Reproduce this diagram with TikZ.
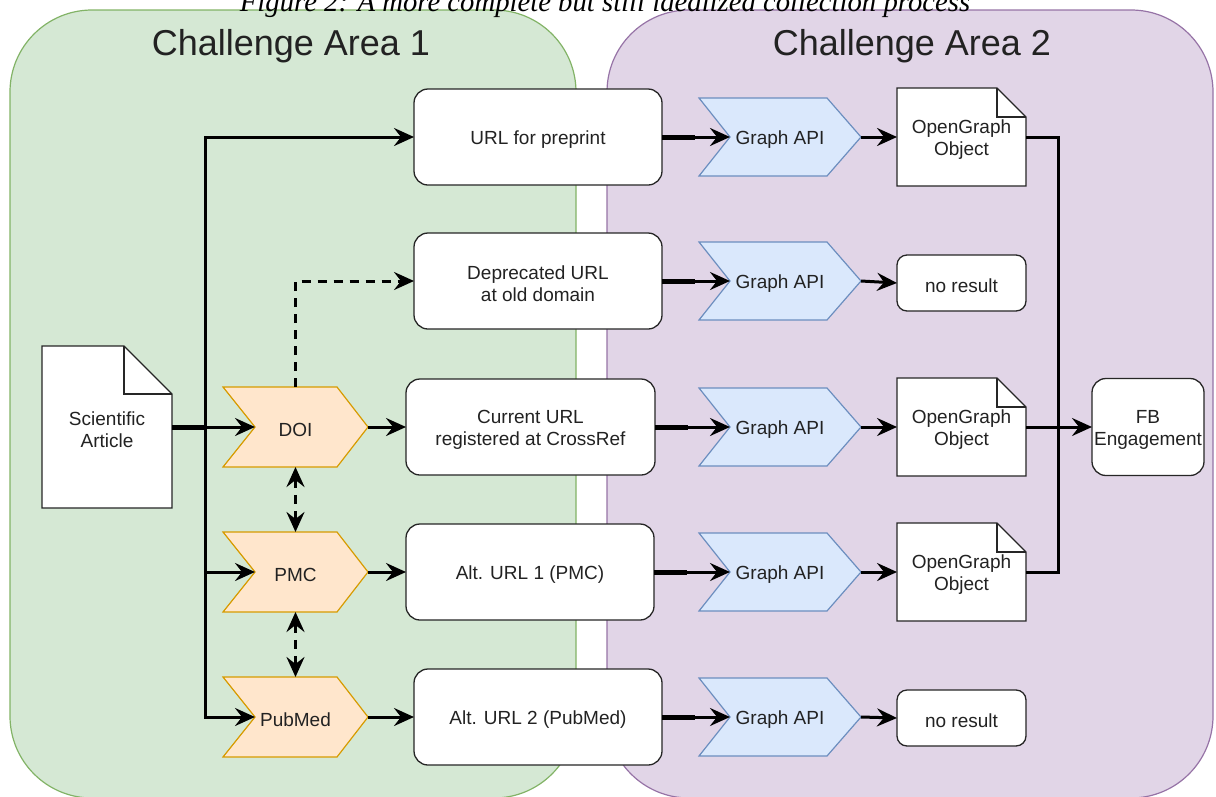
\documentclass[tikz,border=0pt]{standalone}
\usepackage{fontspec}
\setmainfont{Liberation Sans}
\newfontfamily\capfont{Liberation Serif}
\usetikzlibrary{arrows.meta,calc}
\definecolor{greenF}{HTML}{D5E8D4}
\definecolor{greenS}{HTML}{82B366}
\definecolor{purpF}{HTML}{E1D5E7}
\definecolor{purpS}{HTML}{9673A6}
\definecolor{orF}{HTML}{FFE6CC}
\definecolor{orS}{HTML}{D79B00}
\definecolor{blF}{HTML}{DAE8FC}
\definecolor{blS}{HTML}{6C8EBF}
\definecolor{txt}{HTML}{222222}
\newcommand\fs{\fontsize{19}{22}\selectfont}
% chevron: name, x1, y1, x2, y2, notch, tip, style, text
\newcommand\mkchev[9]{%
  \path[#8] (#2,#3) -- ({#4-#7},#3) -- (#4,{(#3+#5)/2}) -- ({#4-#7},#5) -- (#2,#5) -- ({#2+#6},{(#3+#5)/2}) -- cycle;
  \node[plain, minimum width={(#4-#2)*1pt}, minimum height={(#5-#3)*1pt}] (#1) at ({(#2+#4)/2},{(#3+#5)/2}) {};
  \node[plain, lbl] (#1-t) at (#1) {#9};
  \coordinate (#1-in) at ({#2+#6},{(#3+#5)/2});
}
% document: name, x1, y1, x2, y2, fold, text
\newcommand\mkdoc[7]{%
  \path[docshape] (#2,#3) -- ({#4-#6},#3) -- (#4,{#3+#6}) -- (#4,#5) -- (#2,#5) -- cycle;
  \draw[docline] ({#4-#6},#3) -- ({#4-#6},{#3+#6}) -- (#4,{#3+#6});
  \node[plain, minimum width={(#4-#2)*1pt}, minimum height={(#5-#3)*1pt}] (#1) at ({(#2+#4)/2},{(#3+#5)/2}) {};
  \node[plain, lbl] (#1-t) at (#1) {#7};
}
% rounded box: name, center, width, height, extra options, text
\newcommand\mkbox[6]{%
  \node[box, minimum width=#3, minimum height=#4, #5] (#1) at (#2) {};
  \node[plain, lbl] (#1-t) at (#1) {#6};
}
\begin{document}
\begin{tikzpicture}[x=1pt,y=-1pt,
  plain/.style={inner sep=0pt, outer sep=0pt, align=center, font=\fs, text=txt},
  lbl/.style={yshift=-2.5pt},
  box/.style={plain, draw=black!85, line width=1.3pt, fill=white, rounded corners=14pt},
  docshape/.style={draw=black!85, line width=1.3pt, fill=white, line join=miter},
  docline/.style={draw=black!85, line width=1.3pt},
  orange/.style={draw=orS, line width=1.2pt, fill=orF},
  blue/.style={draw=blS, line width=1.2pt, fill=blF},
  line/.style={draw=black, line width=3pt},
  thick seg/.style={draw=black, line width=5pt},
  tip/.style={-{Stealth[length=20pt,width=18pt,inset=7pt]}},
  arr/.style={line, tip},
  darr/.style={line, dash pattern=on 9pt off 7pt, tip},
  ddarr/.style={line, dash pattern=on 9pt off 7pt, {Stealth[length=20pt,width=18pt,inset=7pt]}-{Stealth[length=20pt,width=18pt,inset=7pt]}},
  title/.style={font=\fontsize{36}{40}\selectfont, text=txt, inner sep=0pt}
]
\useasboundingbox (0,0) rectangle (1216,796);
% areas
\path[fill=greenF, draw=greenS, line width=1.2pt, rounded corners=82pt] (10,10) rectangle (576,798);
\path[fill=purpF, draw=purpS, line width=1.2pt, rounded corners=82pt] (607,10) rectangle (1213,798);
\node[font=\capfont\itshape\fontsize{28.7}{30}\selectfont, anchor=base, inner sep=0pt] (cap) at (605,11) {Figure 2: A more complete but still idealized collection process};
\node[title] (ca1) at (291,46) {Challenge Area 1};
\node[title] (ca2) at (912,46) {Challenge Area 2};

% source document
\mkdoc{sci}{42}{346}{172}{508}{48}{Scientific\\Article}

% identifier chevrons
\mkchev{doi}{223}{387}{368}{467}{32}{31}{orange}{DOI}
\mkchev{pmc}{223}{532}{368}{612}{32}{31}{orange}{PMC}
\mkchev{pub}{223}{677}{368}{757}{32}{31}{orange}{PubMed}

% URL boxes
\mkbox{u1}{538,137}{248pt}{96pt}{}{URL for preprint}
\mkbox{u2}{538,281}{248pt}{96pt}{}{Deprecated URL\\at old domain}
\mkbox{u3}{530.5,427}{249pt}{96pt}{}{Current URL\\registered at CrossRef}
\mkbox{u4}{530,572}{248pt}{96pt}{}{Alt. URL 1 (PMC)}
\mkbox{u5}{538,717}{248pt}{96pt}{}{Alt. URL 2 (PubMed)}

% Graph API chevrons
\mkchev{g1}{699}{98}{861}{176}{31}{34}{blue}{Graph API}
\mkchev{g2}{699}{242}{861}{320}{31}{34}{blue}{Graph API}
\mkchev{g3}{699}{388}{861}{466}{31}{34}{blue}{Graph API}
\mkchev{g4}{699}{533}{861}{611}{31}{34}{blue}{Graph API}
\mkchev{g5}{699}{678}{861}{756}{31}{34}{blue}{Graph API}

% results
\mkdoc{og1}{897}{88}{1026}{186}{29}{OpenGraph\\Object}
\mkbox{nr2}{961.5,283}{129pt}{56pt}{rounded corners=10pt}{no result}
\mkdoc{og3}{897}{378}{1026}{476}{29}{OpenGraph\\Object}
\mkdoc{og4}{897}{523}{1026}{621}{29}{OpenGraph\\Object}
\mkbox{nr5}{961.5,718}{129pt}{56pt}{rounded corners=10pt}{no result}
\mkbox{fb}{1148,427}{112pt}{97pt}{}{FB\\Engagement}

% connectors, area 1
\coordinate (jn) at (205,427);
\draw[thick seg] (sci.east) -- (jn);
\draw[arr] (sci.east) -- (doi-in);
\draw[arr] (jn) |- (u1.west);
\draw[arr] (jn) |- (pmc-in);
\draw[arr] (jn) |- (pub-in);
\draw[darr] (doi.north) |- (u2.west);
\draw[ddarr] (doi.south) -- (pmc.north);
\draw[ddarr] (pmc.south) -- (pub.north);
\draw[arr] (doi.east) -- (u3.west);
\draw[arr] (pmc.east) -- (u4.west);
\draw[arr] (pub.east) -- (u5.west);

% connectors, area 2
\foreach \i in {1,...,5} {
  \draw[arr] (u\i.east) -- (g\i-in);
  \draw[thick seg] (u\i.east) -- ($(u\i.east)+(33,0)$);
}
\draw[arr] (g1.east) -- (og1.west);
\draw[arr] (g2.east) -- (nr2.west);
\draw[arr] (g3.east) -- (og3.west);
\draw[arr] (g4.east) -- (og4.west);
\draw[arr] (g5.east) -- (nr5.west);
\coordinate (bus) at (1058,427);
\draw[line] (og1.east) -| (bus);
\draw[line] (og4.east) -| (bus);
\draw[arr] (og3.east) -- (fb.west);
\end{tikzpicture}
\end{document}
